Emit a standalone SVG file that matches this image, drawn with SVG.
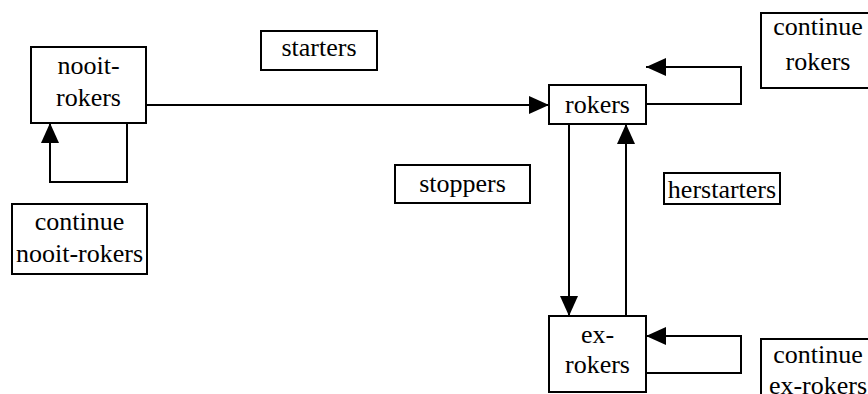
<svg xmlns="http://www.w3.org/2000/svg" width="868" height="394" viewBox="0 0 868 394">
<style>
.box{fill:#fff;stroke:#000;stroke-width:2}
.t{font-family:'Liberation Serif','Times New Roman',Times,'DejaVu Serif','Noto Serif',serif;font-size:26px;fill:#000;text-anchor:middle}
.c{fill:none;stroke:#000;stroke-width:2}
</style>
<defs>
<marker id="ah" markerUnits="userSpaceOnUse" markerWidth="20" markerHeight="20" refX="20" refY="10" orient="auto" viewBox="0 0 20 20">
<path d="M0,1 L20,10 L0,19 z" fill="#000"/>
</marker>
</defs>
<rect width="868" height="394" fill="#fff"/>
<g id="connectors">
<line class="c" x1="146" y1="105" x2="549" y2="105" marker-end="url(#ah)"/>
<polyline class="c" points="127,123 127,182 50,182 50,123" marker-end="url(#ah)"/>
<polyline class="c" points="646,104 741,104 741,67 646,67" marker-end="url(#ah)"/>
<line class="c" x1="569" y1="124" x2="569" y2="316" marker-end="url(#ah)"/>
<line class="c" x1="626" y1="316" x2="626" y2="124" marker-end="url(#ah)"/>
<polyline class="c" points="646,373 741,373 741,336 646,336" marker-end="url(#ah)"/>
</g>
<g id="nooit-rokers">
<rect class="box" x="31" y="47" width="115" height="76"/>
<text class="t" x="88.5" y="74" font-family="Liberation Serif, serif">nooit-</text>
<text class="t" x="88.5" y="106" font-family="Liberation Serif, serif">rokers</text>
</g>
<g id="starters">
<rect class="box" x="261" y="31" width="116" height="39"/>
<text class="t" x="319" y="56">starters</text>
</g>
<g id="rokers">
<rect class="box" x="549" y="85" width="97" height="39"/>
<text class="t" x="597.5" y="113">rokers</text>
</g>
<g id="continue-rokers">
<rect class="box" x="761" y="13" width="114" height="75"/>
<text class="t" x="818" y="35">continue</text>
<text class="t" x="818" y="70">rokers</text>
</g>
<g id="continue-nooit-rokers">
<rect class="box" x="12" y="204" width="135" height="70"/>
<text class="t" x="79.5" y="230">continue</text>
<text class="t" x="79.5" y="262">nooit-rokers</text>
</g>
<g id="stoppers">
<rect class="box" x="395" y="165" width="135" height="38"/>
<text class="t" x="462.5" y="192">stoppers</text>
</g>
<g id="herstarters">
<rect class="box" x="664" y="173" width="116" height="31"/>
<text class="t" x="722" y="198">herstarters</text>
</g>
<g id="ex-rokers">
<rect class="box" x="549" y="316" width="97" height="76"/>
<text class="t" x="597.5" y="343">ex-</text>
<text class="t" x="597.5" y="373">rokers</text>
</g>
<g id="continue-ex-rokers">
<rect class="box" x="761" y="339" width="114" height="70"/>
<text class="t" x="818" y="363">continue</text>
<text class="t" x="818" y="394">ex-rokers</text>
</g>
</svg>
